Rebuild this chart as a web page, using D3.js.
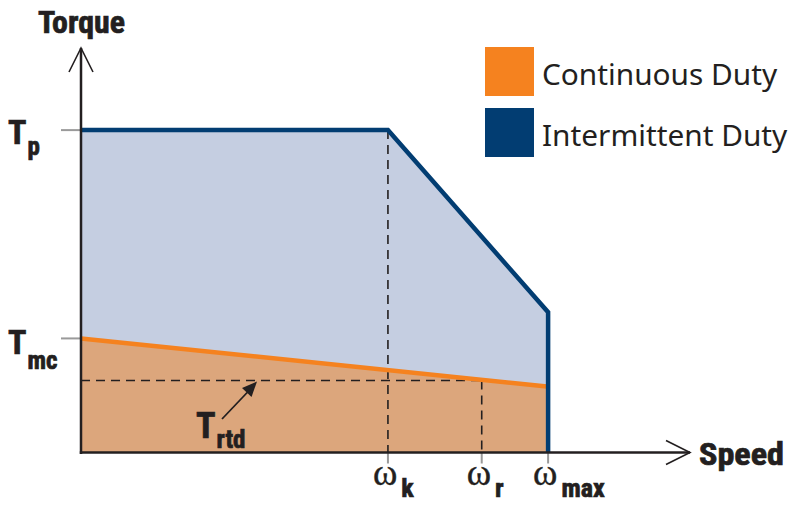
<!DOCTYPE html>
<html><head><meta charset="utf-8">
<script src="https://cdn.jsdelivr.net/npm/d3@7"></script>
<style>
html,body{margin:0;padding:0;background:#fff;}
svg{display:block;}
.bc{font-family:"Liberation Sans Narrow","Roboto Condensed","Liberation Sans",Arial,sans-serif;font-weight:bold;fill:#231f20;stroke:#231f20;stroke-width:0.7;}
.lg{font-family:"Noto Sans","Open Sans",sans-serif;fill:#231f20;}
.om{font-family:"Liberation Serif","Times New Roman",serif;fill:#231f20;stroke:#231f20;stroke-width:0.4;}
</style></head>
<body>
<svg id="chart" width="790" height="505"></svg>
<script>
// ---- data (arbitrary units: speed 0..100, torque 0..100) ----
const speedMarks = [
  {name:"k",   value:50.4},
  {name:"r",   value:65.8},
  {name:"max", value:76.7}
];
const torqueMarks = [
  {name:"p",  value:79.7},
  {name:"mc", value:28.2}
];
const torqueRated = 17.8;
// intermittent duty envelope: [speed, torque]
const intermittentCurve = [[0,79.7],[50.4,79.7],[76.7,34.7],[76.7,0]];
// continuous duty line: [speed, torque]
const continuousCurve = [[0,28.2],[76.5,16.3]];
const legendItems = [
  {label:"Continuous Duty",   color:"#f5821f"},
  {label:"Intermittent Duty", color:"#023d72"}
];

const svg = d3.select("#chart");
const x = d3.scaleLinear().domain([0,100]).range([81,690]);
const y = d3.scaleLinear().domain([0,100]).range([452.5,48]);
const line = d3.line().x(d=>x(d[0])).y(d=>y(d[1]));

// blue fill
const blueArea = [[0,0]].concat(intermittentCurve);
svg.append("path").attr("d", line(blueArea)+"Z").attr("fill","#c5cee1");
// tan fill
const tanArea = [[0,0]].concat(continuousCurve).concat([[continuousCurve[1][0],0]]);
svg.append("path").attr("d", line(tanArea)+"Z").attr("fill","#dca67c");

// dashed guide lines
const dash = "9,6";
const sK = speedMarks[0].value, sR = speedMarks[1].value;
svg.append("line").attr("x1",x(sK)).attr("x2",x(sK)).attr("y1",y(torqueMarks[0].value)).attr("y2",y(0))
  .attr("stroke","#231f20").attr("stroke-width",1.6).attr("stroke-dasharray",dash);
svg.append("line").attr("x1",x(sR)).attr("x2",x(sR)).attr("y1",y(torqueRated)).attr("y2",y(0))
  .attr("stroke","#231f20").attr("stroke-width",1.6).attr("stroke-dasharray",dash);
svg.append("line").attr("x1",x(0)).attr("x2",x(sR)).attr("y1",y(torqueRated)).attr("y2",y(torqueRated))
  .attr("stroke","#231f20").attr("stroke-width",1.6).attr("stroke-dasharray",dash);

// continuous line
svg.append("path").attr("d", line(continuousCurve)).attr("fill","none")
  .attr("stroke","#f5821f").attr("stroke-width",4.5);
// intermittent line
svg.append("path").attr("d", line(intermittentCurve)).attr("fill","none")
  .attr("stroke","#023d72").attr("stroke-width",4.5).attr("stroke-linejoin","miter");

// ticks
speedMarks.forEach(m=>{
  svg.append("line").attr("x1",x(m.value)).attr("x2",x(m.value)).attr("y1",y(0)).attr("y2",y(0)+11)
    .attr("stroke","#9a9a9a").attr("stroke-width",2);
});
torqueMarks.forEach(m=>{
  svg.append("line").attr("x1",x(0)-20).attr("x2",x(0)).attr("y1",y(m.value)).attr("y2",y(m.value))
    .attr("stroke","#9a9a9a").attr("stroke-width",2);
});

// axes
const ax = "#231f20";
svg.append("line").attr("x1",x(0)).attr("x2",x(0)).attr("y1",y(0)+1.5).attr("y2",y(100)).attr("stroke",ax).attr("stroke-width",2.5);
svg.append("line").attr("x1",x(0)-1.2).attr("x2",x(100)).attr("y1",y(0)).attr("y2",y(0)).attr("stroke",ax).attr("stroke-width",2.5);
// arrowheads (open)
svg.append("path").attr("d",`M${x(0)-12},${y(100)+24}L${x(0)},${y(100)}L${x(0)+12},${y(100)+24}`)
  .attr("fill","none").attr("stroke",ax).attr("stroke-width",1.6);
svg.append("path").attr("d",`M${x(100)-24},${y(0)-12}L${x(100)},${y(0)}L${x(100)-24},${y(0)+12}`)
  .attr("fill","none").attr("stroke",ax).attr("stroke-width",1.6);

// axis titles
svg.append("text").attr("class","bc").attr("x",38).attr("y",33).attr("font-size",32)
  .attr("textLength",87).attr("lengthAdjust","spacingAndGlyphs").text("Torque");
svg.append("text").attr("class","bc").attr("x",699).attr("y",465).attr("font-size",32)
  .attr("textLength",85).attr("lengthAdjust","spacingAndGlyphs").text("Speed");

// torque labels
function tLabel(xT, yBase, sub, subDy, big) {
  const t = svg.append("text").attr("class","bc").attr("x",xT).attr("y",yBase);
  t.append("tspan").attr("font-size",big).text("T");
  t.append("tspan").attr("font-size",25).attr("dx",1).attr("dy",subDy).text(sub);
  return t;
}
tLabel(8, y(torqueMarks[0].value)+14, torqueMarks[0].name, 11, 34);
tLabel(8, y(torqueMarks[1].value)+16, torqueMarks[1].name, 15, 34);
tLabel(196, 438, "rtd", 10, 36);

// Trtd arrow
const arrX = 257, arrY = y(torqueRated)+1;
svg.append("line").attr("x1",222).attr("y1",419).attr("x2",arrX-6).attr("y2",arrY+7)
  .attr("stroke","#231f20").attr("stroke-width",1.8);
(function(){
  const ang = Math.atan2(arrY-419, arrX-222);
  const L=15, W=6.5;
  const bx = arrX - L*Math.cos(ang), by = arrY - L*Math.sin(ang);
  const px = -Math.sin(ang), py = Math.cos(ang);
  svg.append("path").attr("d",`M${arrX},${arrY}L${bx+W*px},${by+W*py}L${bx-W*px},${by-W*py}Z`).attr("fill","#231f20");
})();

// speed labels
speedMarks.forEach(m=>{
  const t = svg.append("text").attr("x",x(m.value)-15).attr("y",485);
  t.append("tspan").attr("class","om").attr("font-size",37).text("ω");
  t.append("tspan").attr("class","bc").attr("font-size",26).attr("dx",4).attr("dy",12).text(m.name);
});

// legend
legendItems.forEach((d,i)=>{
  svg.append("rect").attr("x",485).attr("y",47+i*61).attr("width",49).attr("height",49).attr("fill",d.color);
  svg.append("text").attr("class","lg").attr("x",542).attr("y",85+i*61).attr("font-size",29.8).text(d.label);
});
</script>
</body></html>
